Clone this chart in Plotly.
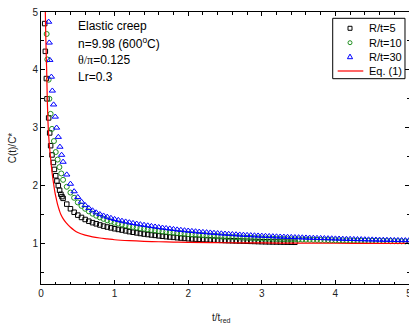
import plotly.graph_objects as go

# ---------------- data ----------------
t_r5 = [0.050, 0.059, 0.073, 0.081, 0.104, 0.118, 0.131, 0.149, 0.168, 0.182, 0.200, 0.216, 0.235, 0.253, 0.270, 0.285,
        0.30, 0.35, 0.40, 0.45, 0.50, 0.55, 0.60, 0.65, 0.70, 0.75, 0.80, 0.85, 0.90, 0.95, 1.00,
        1.05, 1.10, 1.15, 1.20, 1.25, 1.30, 1.35, 1.40, 1.45, 1.50, 1.55, 1.60, 1.65, 1.70, 1.75,
        1.80, 1.85, 1.90, 1.95, 2.00, 2.05, 2.10, 2.15, 2.20, 2.25, 2.30, 2.35, 2.40, 2.45, 2.50,
        2.55, 2.60, 2.65, 2.70, 2.75, 2.80, 2.85, 2.90, 2.95, 3.00, 3.05, 3.10, 3.15, 3.20, 3.25,
        3.30, 3.35, 3.40, 3.45]
c_r5 = [4.80, 4.32, 3.85, 3.50, 3.17, 2.91, 2.69, 2.53, 2.40, 2.28, 2.17, 2.08, 2.00, 1.92, 1.85, 1.81,
        1.78, 1.68, 1.60, 1.54, 1.49, 1.45, 1.415, 1.385, 1.36, 1.34, 1.32, 1.30, 1.285, 1.27, 1.255,
        1.243, 1.232, 1.218, 1.205, 1.194, 1.183, 1.173, 1.163, 1.155, 1.147, 1.14, 1.132, 1.125, 1.118, 1.112,
        1.106, 1.10, 1.094, 1.088, 1.082, 1.078, 1.075, 1.072, 1.069, 1.066, 1.063, 1.06, 1.057, 1.054, 1.051,
        1.049, 1.047, 1.045, 1.043, 1.041, 1.039, 1.037, 1.035, 1.033, 1.031, 1.029, 1.028, 1.027, 1.026, 1.025,
        1.024, 1.023, 1.022, 1.021]

t_r10 = [0.077, 0.086, 0.104, 0.114, 0.131, 0.149, 0.176, 0.200, 0.226, 0.250, 0.275,
         0.30, 0.35, 0.40, 0.45, 0.50, 0.55, 0.60, 0.65, 0.70, 0.75, 0.80, 0.85, 0.90, 0.95, 1.00,
         1.05, 1.10, 1.15, 1.20, 1.25, 1.30, 1.35, 1.40, 1.45, 1.50, 1.55, 1.60, 1.65, 1.70, 1.75,
         1.80, 1.85, 1.90, 1.95, 2.00, 2.05, 2.10, 2.15, 2.20, 2.25, 2.30, 2.35, 2.40, 2.45, 2.50,
         2.55, 2.60, 2.65, 2.70, 2.75, 2.80, 2.85, 2.90, 2.95, 3.00, 3.05, 3.10, 3.15, 3.20, 3.25,
         3.30, 3.35, 3.40, 3.45, 3.50, 3.55, 3.60, 3.65, 3.70, 3.75, 3.80, 3.85, 3.90, 3.95, 4.00,
         4.05, 4.10, 4.15, 4.20, 4.25, 4.30, 4.35, 4.40, 4.45, 4.50, 4.55, 4.60, 4.65, 4.70, 4.75,
         4.80, 4.85, 4.90, 4.95, 5.00]
c_r10 = [4.62, 4.18, 3.83, 3.50, 3.24, 2.98, 2.77, 2.58, 2.45, 2.32, 2.21,
         2.10, 1.98, 1.88, 1.79, 1.71, 1.65, 1.60, 1.555, 1.515, 1.48, 1.45, 1.425, 1.40, 1.38, 1.36,
         1.345, 1.33, 1.315, 1.30, 1.288, 1.276, 1.265, 1.255, 1.245, 1.236, 1.227, 1.218, 1.21, 1.202, 1.195,
         1.188, 1.181, 1.175, 1.169, 1.163, 1.158, 1.153, 1.148, 1.143, 1.138, 1.134, 1.13, 1.126, 1.122, 1.118,
         1.114, 1.111, 1.108, 1.105, 1.102, 1.099, 1.096, 1.093, 1.091, 1.088, 1.086, 1.084, 1.082, 1.08, 1.078,
         1.076, 1.074, 1.072, 1.071, 1.07, 1.068, 1.066, 1.065, 1.063, 1.062, 1.06, 1.059, 1.058, 1.056, 1.055,
         1.054, 1.053, 1.052, 1.051, 1.05, 1.049, 1.048, 1.047, 1.046, 1.045, 1.044, 1.043, 1.042, 1.041, 1.04,
         1.039, 1.038, 1.037, 1.036, 1.035]

t_r30 = [0.104, 0.112, 0.120, 0.141, 0.154, 0.171, 0.194, 0.212, 0.235, 0.257, 0.280,
         0.30, 0.35, 0.40, 0.45, 0.50, 0.55, 0.60, 0.65, 0.70, 0.75, 0.80, 0.85, 0.90, 0.95, 1.00,
         1.05, 1.10, 1.15, 1.20, 1.25, 1.30, 1.35, 1.40, 1.45, 1.50, 1.55, 1.60, 1.65, 1.70, 1.75,
         1.80, 1.85, 1.90, 1.95, 2.00, 2.05, 2.10, 2.15, 2.20, 2.25, 2.30, 2.35, 2.40, 2.45, 2.50,
         2.55, 2.60, 2.65, 2.70, 2.75, 2.80, 2.85, 2.90, 2.95, 3.00, 3.05, 3.10, 3.15, 3.20, 3.25,
         3.30, 3.35, 3.40, 3.45, 3.50, 3.55, 3.60, 3.65, 3.70, 3.75, 3.80, 3.85, 3.90, 3.95, 4.00,
         4.05, 4.10, 4.15, 4.20, 4.25, 4.30, 4.35, 4.40, 4.45, 4.50, 4.55, 4.60, 4.65, 4.70, 4.75,
         4.80, 4.85, 4.90, 4.95, 5.00]
c_r30 = [4.83, 4.47, 4.17, 3.88, 3.64, 3.40, 3.19, 3.00, 2.84, 2.67, 2.53,
         2.41, 2.19, 2.03, 1.90, 1.80, 1.72, 1.66, 1.61, 1.57, 1.535, 1.505, 1.48, 1.46, 1.44, 1.42,
         1.405, 1.39, 1.377, 1.364, 1.352, 1.341, 1.33, 1.32, 1.31, 1.30, 1.29, 1.281, 1.272, 1.264, 1.256,
         1.248, 1.24, 1.233, 1.226, 1.22, 1.214, 1.208, 1.202, 1.197, 1.192, 1.187, 1.182, 1.177, 1.172, 1.168,
         1.164, 1.16, 1.156, 1.152, 1.148, 1.145, 1.141, 1.138, 1.135, 1.132, 1.129, 1.126, 1.123, 1.12, 1.117,
         1.115, 1.112, 1.11, 1.107, 1.105, 1.103, 1.10, 1.098, 1.096, 1.094, 1.092, 1.09, 1.088, 1.086, 1.084,
         1.082, 1.08, 1.078, 1.077, 1.075, 1.073, 1.072, 1.07, 1.068, 1.067, 1.065, 1.064, 1.062, 1.061, 1.06,
         1.058, 1.057, 1.056, 1.055, 1.054]

t_eq = [0.058, 0.065, 0.072, 0.077, 0.085, 0.095, 0.105, 0.115, 0.127, 0.140, 0.158, 0.175, 0.190,
        0.210, 0.226, 0.250, 0.270, 0.300, 0.340, 0.400, 0.450, 0.500, 0.600, 0.700, 0.800, 0.900,
        1.000, 1.200, 1.400, 1.600, 1.800, 2.000, 2.500, 3.000, 3.500, 4.000, 4.500, 5.000]
c_eq = [5.05, 4.60, 4.20, 4.00, 3.50, 3.10, 2.85, 2.68, 2.52, 2.35, 2.15, 2.00, 1.88,
        1.76, 1.67, 1.57, 1.50, 1.43, 1.36, 1.28, 1.23, 1.19, 1.145, 1.115, 1.095, 1.08,
        1.065, 1.048, 1.037, 1.030, 1.025, 1.020, 1.013, 1.009, 1.006, 1.004, 1.003, 1.002]

names = ["R/t=5", "R/t=10", "R/t=30", "Eq. (1)"]
colors = ["#000000", "#1f8f1f", "#0000ff", "#ff0000"]
x_ticks = [0, 1, 2, 3, 4, 5]
y_ticks = [1, 2, 3, 4, 5]
notes = ["Elastic creep", "n=9.98 (600<sup>o</sup>C)",
         '<span style="font-family:Liberation Serif, Times New Roman, serif">θ/π</span>=0.125', "Lr=0.3"]
x_title = "t/t<sub>red</sub>"
y_title = "C(t)/C*"

FONT = "Arial, Liberation Sans, sans-serif"

fig = go.Figure()
fig.add_trace(go.Scatter(x=t_r5, y=c_r5, mode="markers", name=names[0],
                         marker=dict(symbol="square-open", size=4.5, color=colors[0], line=dict(width=1))))
fig.add_trace(go.Scatter(x=t_r10, y=c_r10, mode="markers", name=names[1],
                         marker=dict(symbol="circle-open", size=5, color=colors[1], line=dict(width=1))))
fig.add_trace(go.Scatter(x=t_r30, y=c_r30, mode="markers", name=names[2],
                         marker=dict(symbol="triangle-up-open", size=5.5, color=colors[2], line=dict(width=1))))
fig.add_trace(go.Scatter(x=t_eq, y=c_eq, mode="lines", name=names[3],
                         line=dict(color=colors[3], width=1.2, shape="spline")))

# text block
ys = [0.95, 0.885, 0.822, 0.76]
for txt, yy in zip(notes, ys):
    fig.add_annotation(text=txt, x=0.095, y=yy, xref="paper", yref="paper",
                       xanchor="left", yanchor="middle", showarrow=False,
                       font=dict(family=FONT, size=12, color="#000000"))

# axis titles as annotations (precise placement)
fig.add_annotation(text=x_title, x=0.49, y=-0.095, xref="paper", yref="paper",
                   xanchor="center", yanchor="top", showarrow=False,
                   font=dict(family=FONT, size=10, color="#222222"))
fig.add_annotation(text=y_title, x=-0.078, y=0.5, xref="paper", yref="paper",
                   xanchor="center", yanchor="middle", showarrow=False, textangle=-90,
                   font=dict(family=FONT, size=10, color="#222222"))

# compact legend (box, swatches, labels) drawn in paper coordinates
PX = 1 / 368.0   # paper units per pixel horizontally
PY = 1 / 272.0   # paper units per pixel vertically
leg_rows = [0.9401, 0.8871, 0.8357, 0.7831]
sym_x = 0.8397
txt_x = 0.8859
fig.add_shape(type="rect", xref="paper", yref="paper", x0=0.7927, x1=0.9891, y0=0.7548, y1=0.9768,
              line=dict(color="#000000", width=1), fillcolor="white", layer="above")
fig.add_shape(type="rect", xref="paper", yref="paper",
              x0=sym_x - 2 * PX, x1=sym_x + 2 * PX, y0=leg_rows[0] - 2 * PY, y1=leg_rows[0] + 2 * PY,
              line=dict(color=colors[0], width=1), layer="above")
fig.add_shape(type="circle", xref="paper", yref="paper",
              x0=sym_x - 2 * PX, x1=sym_x + 2 * PX, y0=leg_rows[1] - 2 * PY, y1=leg_rows[1] + 2 * PY,
              line=dict(color=colors[1], width=1), layer="above")
tri = "M {:.5f},{:.5f} L {:.5f},{:.5f} L {:.5f},{:.5f} Z".format(
    sym_x, leg_rows[2] + 2.6 * PY, sym_x - 2.6 * PX, leg_rows[2] - 2 * PY, sym_x + 2.6 * PX, leg_rows[2] - 2 * PY)
fig.add_shape(type="path", xref="paper", yref="paper", path=tri,
              line=dict(color=colors[2], width=1), layer="above")
fig.add_shape(type="line", xref="paper", yref="paper", x0=0.8062, x1=0.8758, y0=leg_rows[3], y1=leg_rows[3],
              line=dict(color=colors[3], width=1.2), layer="above")
for nm, yy in zip(names, leg_rows):
    fig.add_annotation(text=nm, x=txt_x, y=yy, xref="paper", yref="paper",
                       xanchor="left", yanchor="middle", showarrow=False,
                       font=dict(family=FONT, size=11, color="#000000"))

axis_common = dict(showline=True, linecolor="#000000", linewidth=1, mirror="allticks",
                   ticks="inside", tickcolor="#000000", showgrid=False, zeroline=False,
                   automargin=False, ticklabeloverflow="allow",
                   tickfont=dict(family=FONT, size=10, color="#222222"))

fig.update_xaxes(range=[0, 5], tickvals=x_ticks, ticklen=4,
                 minor=dict(dtick=0.2, ticks="inside", ticklen=2.5, tickcolor="#000000"),
                 **axis_common)
fig.update_yaxes(range=[0.3, 5], tickvals=y_ticks, ticklen=4,
                 minor=dict(dtick=0.5, ticks="inside", ticklen=2.5, tickcolor="#000000"),
                 **axis_common)

fig.update_layout(
    width=409, height=326,
    margin=dict(l=41, r=0, t=12, b=42),
    plot_bgcolor="white", paper_bgcolor="white",
    font=dict(family=FONT, size=10, color="#000000"),
    showlegend=False,
)

fig.write_html("out.html", config={"displayModeBar": False},
               post_script="document.body.style.margin='0';document.body.style.padding='0';document.body.style.overflow='hidden';")
